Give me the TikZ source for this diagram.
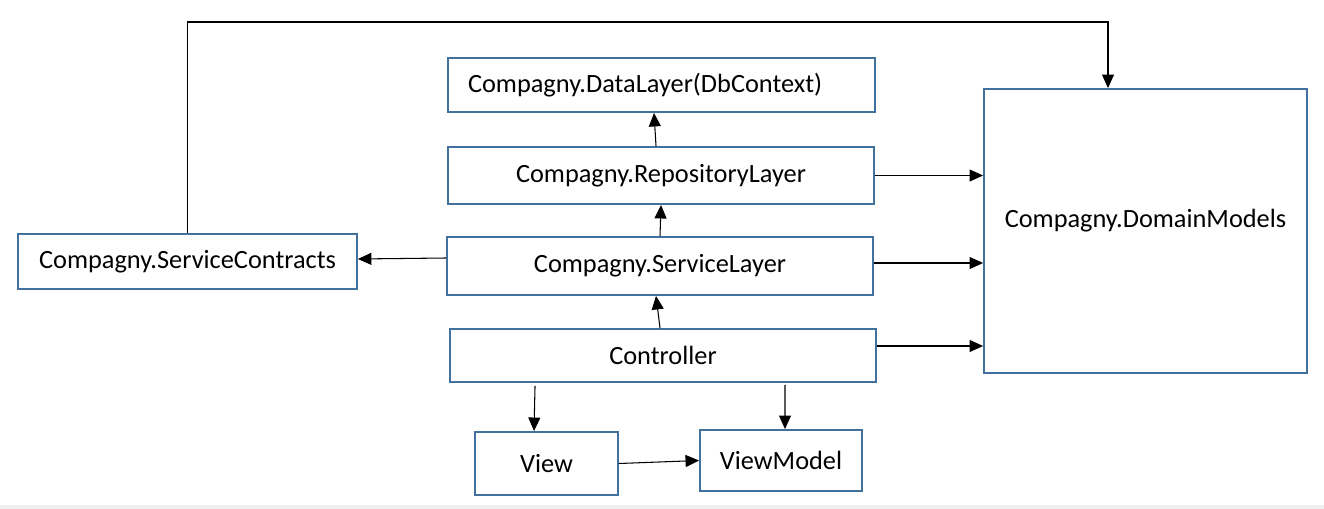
\documentclass[tikz,border=0pt]{standalone}
\usepackage{fontspec}
\setmainfont{Carlito}
\usetikzlibrary{arrows.meta}
\definecolor{boxblue}{HTML}{41719C}
\begin{document}
\begin{tikzpicture}[x=0.02cm,y=-0.02cm,line width=0.6pt,
  >={Triangle[length=0.27cm,width=0.24cm]},
  layer/.style={draw=boxblue,line width=1.1pt,inner sep=0pt,font=\fontsize{15}{18}\selectfont}]
\useasboundingbox (0,0) rectangle (1324,509);
\fill[black!6] (0,505) rectangle (1324,509);
\node[layer,minimum width=8.54cm,minimum height=1.08cm,text width=8.5cm,align=left] (data) at (661.5,85) {\hspace*{0.38cm}Compagny.DataLayer(DbContext)};
\node[layer,minimum width=8.52cm,minimum height=1.14cm,text width=8.48cm,align=left] (repo) at (661,175.5) {\hspace*{1.34cm}Compagny.RepositoryLayer};
\node[layer,minimum width=8.52cm,minimum height=1.16cm] (serv) at (660,266) {Compagny.ServiceLayer};
\node[layer,minimum width=8.52cm,minimum height=1.06cm] (ctrl) at (663,355.5) {Controller};
\node[layer,minimum width=6.78cm,minimum height=1.10cm] (contracts) at (187.5,261.5) {Compagny.ServiceContracts};
\node[layer,minimum width=2.86cm,minimum height=1.26cm] (view) at (546.5,463.5) {View};
\node[layer,minimum width=3.24cm,minimum height=1.22cm] (vm) at (781,460.5) {ViewModel};
\node[layer,minimum width=6.46cm,minimum height=5.68cm,text depth=0.5cm] (domain) at (1145.5,231) {Compagny.DomainModels};
\coordinate (bend) at (1108,22);
\draw [->] ([xshift=-0.1cm]repo.north) -- ([xshift=-0.15cm]data.south);
\draw [->] (serv.north) -- (repo.south);
\draw [->] ([xshift=-0.06cm]ctrl.north) -- ([xshift=-0.08cm]serv.south);
\draw [->] ([yshift=0.16cm]serv.west) -- ([yshift=0.05cm]contracts.east);
\draw [->] (repo.east) -- (repo.east -| domain.west);
\draw [->] ([yshift=0.06cm]serv.east) -- ([yshift=0.06cm]serv.east -| domain.west);
\draw [->] ([yshift=0.19cm]ctrl.east) -- ([yshift=0.19cm]ctrl.east -| domain.west);
\draw [->] ([xshift=-2.56cm,yshift=-0.06cm]ctrl.south) -- ([xshift=-0.25cm]view.north);
\draw [->] ([xshift=2.44cm,yshift=-0.04cm]ctrl.south) -- ([xshift=0.08cm]vm.north);
\draw [->] (view.east) -- (vm.west);
\draw [->] (contracts.north) |- (bend) -- (bend |- domain.north);
\end{tikzpicture}
\end{document}
